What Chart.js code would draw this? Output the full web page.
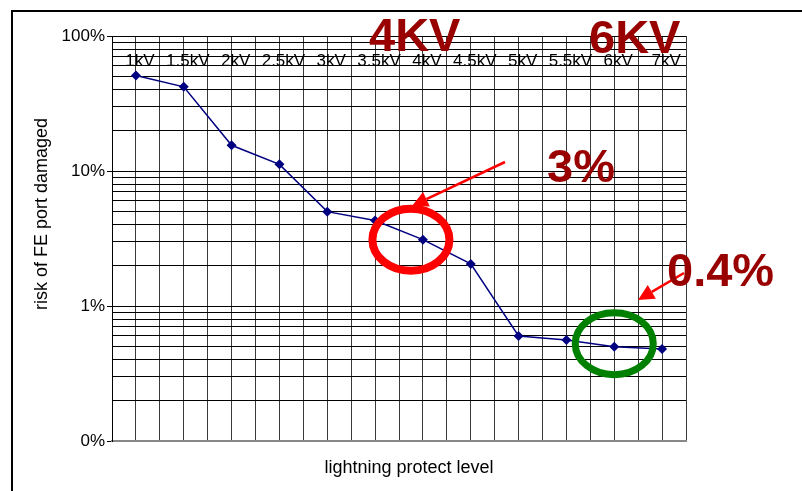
<!DOCTYPE html>
<html>
<head>
<meta charset="utf-8">
<script src="https://cdn.jsdelivr.net/npm/chart.js@4.4.0/dist/chart.umd.min.js"></script>
<style>
  body { margin: 0; background: #fff; overflow: hidden; }
  #wrap { position: relative; width: 802px; height: 491px; }
  #frame { position: absolute; left: 11px; top: 10px; width: 900px; height: 600px;
           border-left: 2px solid #000; border-top: 2px solid #000; }
  canvas { position: absolute; left: 0; top: 0; }
</style>
</head>
<body>
<div id="wrap">
  <div id="frame"></div>
  <canvas id="myChart" width="802" height="491"></canvas>
</div>
<script>
// protection levels and risk (fraction, log scale)
let categories = ['1kV', '1.5kV', '2kV', '2.5kV', '3kV', '3.5kV', '4kV', '4.5kV', '5kV', '5.5kV', '6kV', '7kV'];
let riskValues = [0.51, 0.42, 0.155, 0.112, 0.05, 0.043, 0.031, 0.0205, 0.006, 0.0056, 0.005, 0.0048];
let yTickValues = [1, 0.1, 0.01, 0.001];
let yTickLabels = ['100%', '10%', '1%', '0%'];

const FONT = "'Liberation Sans', Arial, sans-serif";
const DARKRED = '#990000';

// log grid: 1..9 inside each decade
let gridValues = [];
yTickValues.slice(1).forEach(d => {
    for (let k = 1; k < 10; k++) gridValues.push(+(d * k).toPrecision(3));
});
gridValues.push(1);

let xGrid = [];
for (let v = 0.5; v <= categories.length + 0.5; v += 0.5) xGrid.push(v);

const overlay = {
    id: 'overlay',
    afterDraw(chart) {
        const ctx = chart.ctx;
        const x = chart.scales.x, y = chart.scales.y;
        const area = chart.chartArea;
        ctx.save();

        // category labels inside the top of the plot
        ctx.fillStyle = '#000';
        ctx.font = '17px ' + FONT;
        ctx.textAlign = 'center';
        ctx.textBaseline = 'middle';
        categories.forEach((c, i) => {
            ctx.fillText(c, x.getPixelForValue(i + 1) + 4, area.top + 25);
        });

        // axis titles
        ctx.font = '18px ' + FONT;
        ctx.fillText('lightning protect level', 409, 468);
        ctx.save();
        ctx.translate(42, 214);
        ctx.rotate(-Math.PI / 2);
        ctx.fillText('risk of FE port damaged', 0, 0);
        ctx.restore();

        // ellipses round the 4kV and 6kV points
        function ring(idx, dx, dy, rx, ry, color, w) {
            ctx.beginPath();
            ctx.ellipse(x.getPixelForValue(idx + 1) + dx, y.getPixelForValue(riskValues[idx]) + dy, rx, ry, 0, 0, Math.PI * 2);
            ctx.strokeStyle = color;
            ctx.lineWidth = w;
            ctx.stroke();
        }
        ring(6, -12, 0, 38.5, 31, '#ff0000', 8);
        ring(10, 0, -3, 39, 31, '#008000', 7);

        // arrows
        function arrow(x1, y1, x2, y2) {
            const a = Math.atan2(y2 - y1, x2 - x1);
            const hl = 16, hw = 8;
            const bx = x2 - hl * Math.cos(a), by = y2 - hl * Math.sin(a);
            ctx.strokeStyle = '#ff0000';
            ctx.fillStyle = '#ff0000';
            ctx.lineWidth = 2.5;
            ctx.beginPath();
            ctx.moveTo(x1, y1);
            ctx.lineTo(bx, by);
            ctx.stroke();
            ctx.beginPath();
            ctx.moveTo(x2, y2);
            ctx.lineTo(bx + hw * Math.sin(a), by - hw * Math.cos(a));
            ctx.lineTo(bx - hw * Math.sin(a), by + hw * Math.cos(a));
            ctx.closePath();
            ctx.fill();
        }
        arrow(505, 162, 412, 206);
        arrow(684, 273, 638, 300);

        // big labels
        ctx.fillStyle = DARKRED;
        ctx.font = 'bold 47px ' + FONT;
        ctx.textAlign = 'left';
        ctx.textBaseline = 'alphabetic';
        ctx.fillText('4KV', 369, 51);
        ctx.fillText('6KV', 589, 53);
        ctx.fillText('3%', 547, 182);
        ctx.fillText('0.4%', 667, 286);

        ctx.restore();
    }
};

let chart = new Chart(document.getElementById('myChart').getContext('2d'), {
    type: 'line',
    data: {
        datasets: [{
            label: 'risk',
            data: riskValues.map((v, i) => ({x: i + 1, y: v})),
            borderColor: '#000080',
            backgroundColor: '#000080',
            borderWidth: 1.5,
            pointStyle: 'rectRot',
            pointRadius: 5,
            pointBorderWidth: 0,
            pointBackgroundColor: '#000080',
            tension: 0
        }]
    },
    options: {
        responsive: false,
        animation: false,
        layout: { padding: { left: 0, top: 36, right: 116, bottom: 50 } },
        plugins: { legend: { display: false }, tooltip: { enabled: false } },
        scales: {
            x: {
                type: 'linear',
                min: 0.5,
                max: categories.length + 0.5,
                afterBuildTicks: s => { s.ticks = xGrid.map(v => ({value: v})); },
                afterFit: s => { s.height = 0; },
                ticks: { display: false, autoSkip: false },
                grid: { color: '#3a3a3a', lineWidth: 1, drawTicks: false },
                border: { color: '#888', width: 2 }
            },
            y: {
                type: 'logarithmic',
                min: 0.001,
                max: 1,
                afterBuildTicks: s => {
                    s.ticks = gridValues.map(v => ({value: v, major: yTickValues.includes(v)}));
                },
                afterFit: s => { s.width = 112; },
                ticks: {
                    autoSkip: false,
                    color: '#000',
                    font: { family: FONT, size: 17 },
                    padding: 2,
                    callback: v => {
                        const i = yTickValues.indexOf(v);
                        return i >= 0 ? yTickLabels[i] : '';
                    }
                },
                grid: {
                    color: '#000',
                    lineWidth: 1,
                    tickLength: 5,
                    tickColor: c => (c.tick && c.tick.major) ? '#000' : 'rgba(0,0,0,0)'
                },
                border: { color: '#000', width: 1 }
            }
        }
    },
    plugins: [overlay]
});
</script>
</body>
</html>
